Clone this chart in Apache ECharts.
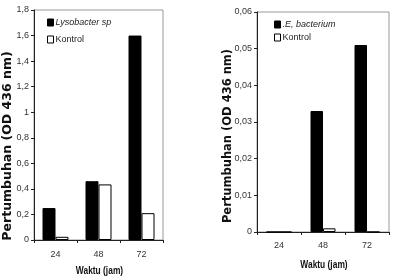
<!DOCTYPE html>
<html>
<head>
<meta charset="utf-8">
<script src="https://cdn.jsdelivr.net/npm/echarts@6/dist/echarts.min.js"></script>
<style>
  html, body { margin: 0; padding: 0; background: #fff; }
  #chart { width: 394px; height: 276px; }
</style>
</head>
<body>
<div id="chart"></div>
<script>
// 数据
const categories = ['24', '48', '72'];
const lysobacter = [0.25, 0.46, 1.6];
const kontrolKiri = [0.025, 0.435, 0.21];
const bacterium = [0, 0.033, 0.051];
const kontrolKanan = [0, 0.001, 0];
const leftTicks = { min: 0, max: 1.8, interval: 0.2 };
const rightTicks = { min: 0, max: 0.06, interval: 0.01 };

const sans = 'Liberation Sans';
const commaFmt = v => String(+v.toFixed(3)).replace('.', ',');

let chart = echarts.init(document.getElementById('chart'));

// 共用的坐标轴样式
const xAxisBase = {
  type: 'category',
  data: categories,
  axisLine: { lineStyle: { color: '#222', width: 1 } },
  axisTick: { show: true, length: 3, lineStyle: { color: '#222' } },
  axisLabel: { fontFamily: sans, fontSize: 9, color: '#333' },
  splitLine: { show: false }
};
const yAxisBase = {
  type: 'value',
  axisLine: { show: true, lineStyle: { color: '#222', width: 1 } },
  axisTick: { show: true, length: 3, inside: false, lineStyle: { color: '#222' } },
  axisLabel: { fontFamily: sans, fontSize: 9, color: '#333', margin: 5, formatter: commaFmt },
  splitLine: { show: false }
};

const legendBase = {
  orient: 'vertical',
  padding: 0,
  itemWidth: 6,
  itemHeight: 7,
  icon: 'rect',
  textStyle: {
    fontFamily: sans, fontSize: 9, color: '#222', padding: [0, 0, 0, -3],
    rich: { i: { fontStyle: 'italic', fontFamily: sans, fontSize: 9, color: '#222' } }
  }
};

// 轴标题（窄体）
const axisTitle = (text, x, y, rotate, size) => ({
  type: 'text', x: x, y: y, rotation: rotate ? Math.PI / 2 : 0,
  scaleX: rotate ? 1 : 0.8,
  style: { text: text, fontFamily: rotate ? 'DejaVu Sans' : sans, fontWeight: 'bold',
    fontSize: size, fill: '#111', align: 'center', verticalAlign: 'middle' }
});

let option = {
  animation: false,
  grid: [
    { left: 34, top: 10, width: 129, height: 230, show: true, borderColor: '#999', borderWidth: 1 },
    { left: 257, top: 12, width: 132, height: 220, show: true, borderColor: '#999', borderWidth: 1 }
  ],
  xAxis: [
    Object.assign({}, xAxisBase, { gridIndex: 0,
      axisLabel: Object.assign({}, xAxisBase.axisLabel, { margin: 10 }) }),
    Object.assign({}, xAxisBase, { gridIndex: 1,
      axisLabel: Object.assign({}, xAxisBase.axisLabel, { margin: 9 }) })
  ],
  yAxis: [
    Object.assign({}, yAxisBase, { gridIndex: 0 }, leftTicks),
    Object.assign({}, yAxisBase, { gridIndex: 1 }, rightTicks)
  ],
  legend: [
    Object.assign({}, legendBase, {
      left: 47, top: 18, itemGap: 8,
      data: [
        { name: 'Lysobacter sp', itemStyle: { color: '#000', borderColor: '#000', borderWidth: 1 } },
        { name: 'Kontrol', itemStyle: { color: '#fff', borderColor: '#000', borderWidth: 1 } }
      ],
      formatter: name => name === 'Kontrol' ? name : '{i|' + name + '}'
    }),
    Object.assign({}, legendBase, {
      left: 274, top: 20, itemGap: 4,
      data: [
        { name: '.E, bacterium', itemStyle: { color: '#000', borderColor: '#000', borderWidth: 1 } },
        { name: 'Kontrol', itemStyle: { color: '#fff', borderColor: '#000', borderWidth: 1 } }
      ],
      formatter: name => name === 'Kontrol' ? name : '{i|' + name + '}'
    })
  ],
  graphic: [
    axisTitle('Pertumbuhan (OD 436 nm)', 8, 146, true, 12.5),
    axisTitle('Pertumbuhan (OD 436 nm)', 228.5, 136, true, 11.5),
    axisTitle('Waktu (jam)', 99.5, 271, false, 10.5),
    axisTitle('Waktu (jam)', 324, 265, false, 10.5)
  ],
  series: [
    {
      name: 'Lysobacter sp', type: 'bar', xAxisIndex: 0, yAxisIndex: 0,
      data: lysobacter, barWidth: 13, barGap: '0%',
      itemStyle: { color: '#000', borderColor: '#000', borderWidth: 1 }
    },
    {
      name: 'Kontrol', type: 'bar', xAxisIndex: 0, yAxisIndex: 0,
      data: kontrolKiri, barWidth: 13, barGap: '0%',
      itemStyle: { color: '#fff', borderColor: '#000', borderWidth: 1 }
    },
    {
      name: '.E, bacterium', type: 'bar', xAxisIndex: 1, yAxisIndex: 1,
      data: bacterium, barWidth: 12.5, barGap: '0%',
      itemStyle: { color: '#000', borderColor: '#000', borderWidth: 1 }
    },
    {
      name: 'Kontrol', type: 'bar', xAxisIndex: 1, yAxisIndex: 1,
      data: kontrolKanan, barWidth: 12.5, barGap: '0%',
      itemStyle: { color: '#fff', borderColor: '#000', borderWidth: 1 }
    }
  ]
};
chart.setOption(option);
</script>
</body>
</html>
